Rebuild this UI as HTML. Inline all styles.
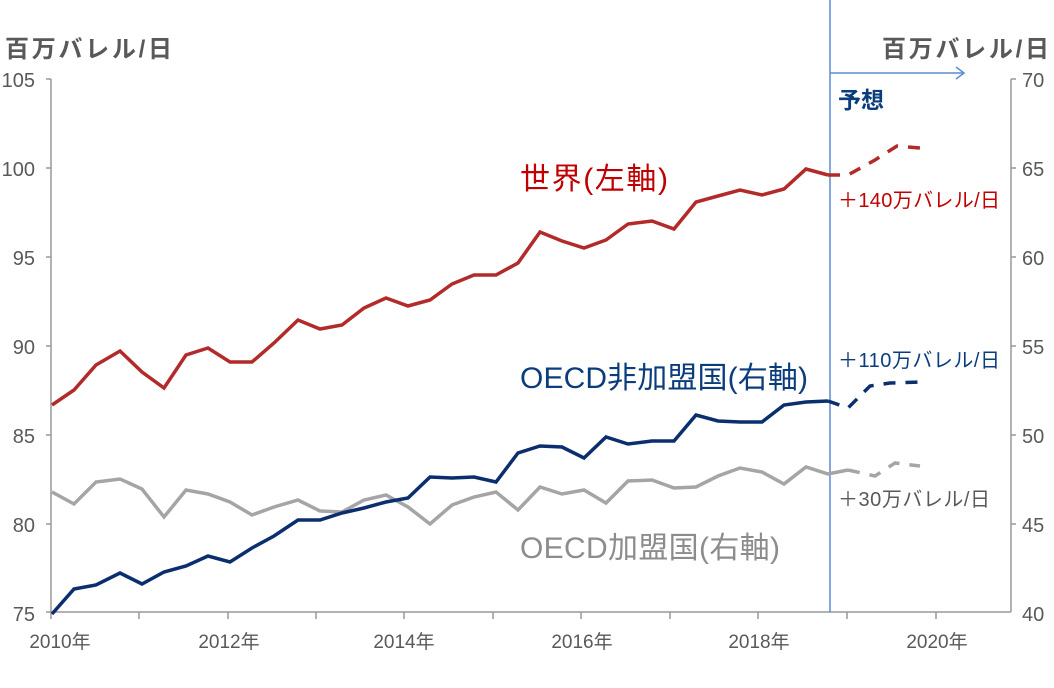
<!DOCTYPE html>
<html><head><meta charset="utf-8"><style>
html,body{margin:0;padding:0;background:#fff;}
svg text{font-family:"Liberation Sans","Noto Sans CJK JP",sans-serif;}
</style></head><body>
<svg width="1054" height="683" viewBox="0 0 1054 683" xmlns="http://www.w3.org/2000/svg">
<rect width="1054" height="683" fill="#fff"/>
<g stroke="#999" stroke-width="1.5" fill="none">
<line x1="51" y1="79" x2="51" y2="612"/>
<line x1="46" y1="612" x2="1011" y2="612"/>
<line x1="1011" y1="79" x2="1011" y2="612"/>
<line x1="46" y1="79" x2="51" y2="79"/><line x1="46" y1="168" x2="51" y2="168"/><line x1="46" y1="257" x2="51" y2="257"/><line x1="46" y1="346" x2="51" y2="346"/><line x1="46" y1="435" x2="51" y2="435"/><line x1="46" y1="524" x2="51" y2="524"/>
<line x1="1011" y1="79" x2="1016" y2="79"/><line x1="1011" y1="168" x2="1016" y2="168"/><line x1="1011" y1="257" x2="1016" y2="257"/><line x1="1011" y1="346" x2="1016" y2="346"/><line x1="1011" y1="435" x2="1016" y2="435"/><line x1="1011" y1="524" x2="1016" y2="524"/>
<line x1="51" y1="612" x2="51" y2="619"/><line x1="139" y1="612" x2="139" y2="619"/><line x1="228" y1="612" x2="228" y2="619"/><line x1="316" y1="612" x2="316" y2="619"/><line x1="404" y1="612" x2="404" y2="619"/><line x1="493" y1="612" x2="493" y2="619"/><line x1="581" y1="612" x2="581" y2="619"/><line x1="670" y1="612" x2="670" y2="619"/><line x1="758" y1="612" x2="758" y2="619"/><line x1="847" y1="612" x2="847" y2="619"/><line x1="936" y1="612" x2="936" y2="619"/>
</g>
<g fill="#595959" font-size="20">
<text x="35" y="87" text-anchor="end">105</text><text x="35" y="176" text-anchor="end">100</text><text x="35" y="265" text-anchor="end">95</text><text x="35" y="354" text-anchor="end">90</text><text x="35" y="443" text-anchor="end">85</text><text x="35" y="532" text-anchor="end">80</text><text x="35" y="621" text-anchor="end">75</text>
<text x="1022" y="87">70</text><text x="1022" y="176">65</text><text x="1022" y="265">60</text><text x="1022" y="354">55</text><text x="1022" y="443">50</text><text x="1022" y="532">45</text><text x="1022" y="621">40</text>
<text x="60" y="648" text-anchor="middle" font-size="19">2010年</text><text x="229" y="648" text-anchor="middle" font-size="19">2012年</text><text x="404" y="648" text-anchor="middle" font-size="19">2014年</text><text x="582" y="648" text-anchor="middle" font-size="19">2016年</text><text x="759" y="648" text-anchor="middle" font-size="19">2018年</text><text x="937" y="648" text-anchor="middle" font-size="19">2020年</text>
</g>
<g fill="#595959" font-size="24" font-weight="bold">
<text x="5" y="57" textLength="167">百万バレル/日</text>
<text x="882" y="57" textLength="167">百万バレル/日</text>
</g>
<line x1="830" y1="0" x2="830" y2="612" stroke="#5b8bd0" stroke-width="1.5"/>
<line x1="830" y1="73" x2="964" y2="73" stroke="#5b8bd0" stroke-width="1.5"/>
<polyline points="956,67 964,73 956,79" fill="none" stroke="#5b8bd0" stroke-width="1.5"/>
<text x="838" y="108" fill="#0b3d7d" font-size="23" font-weight="bold">予想</text>
<polyline fill="none" stroke="#a5a5a5" stroke-width="3.5" points="52,492 74,504 96,482 120,479 142,489 164,517 186,490 208,494 230,502 252,515 274,507 298,500 320,511 342,512 364,500 386,495 408,507 430,524 452,505 474,497 496,492 518,510 540,487 562,494 584,490 606,503 628,481 652,480 674,488 696,487 718,476 740,468 762,472 784,484 806,467 828,474 848,470"/>
<polyline fill="none" stroke="#a5a5a5" stroke-width="3.5" stroke-dasharray="12,10" points="848,470 875,476 895,463 920,466"/>
<polyline fill="none" stroke="#0b2e6e" stroke-width="3.5" points="52,614 74,589 96,585 120,573 142,584 164,572 186,566 208,556 230,562 252,548 274,536 298,520 320,520 342,513 364,508 386,502 408,498 430,477 452,478 474,477 496,482 518,453 540,446 562,447 584,458 606,437 628,444 652,441 674,441 696,415 718,421 740,422 762,422 784,405 806,402 828,401"/>
<polyline fill="none" stroke="#0b2e6e" stroke-width="3.5" stroke-dasharray="12,10" points="828,401 848,408 870,386 890,383 920,382"/>
<polyline fill="none" stroke="#b22a2a" stroke-width="3.5" points="52,405 74,390 96,365 120,351 142,372 164,388 186,355 208,348 230,362 252,362 274,343 298,320 320,329 342,325 364,308 386,298 408,306 430,300 452,284 474,275 496,275 518,263 540,232 562,241 584,248 606,240 628,224 652,221 674,229 696,202 718,196 740,190 762,195 784,189 806,169 828,175"/>
<polyline fill="none" stroke="#b22a2a" stroke-width="3.5" stroke-dasharray="12,10" points="828,175 848,175 875,160 897,146 920,148"/>
<text x="520" y="189" fill="#c00000" font-size="30" textLength="148">世界(左軸)</text>
<text x="520" y="388" fill="#0b3d7d" font-size="30" textLength="288">OECD非加盟国(右軸)</text>
<text x="520" y="558" fill="#8c8c8c" font-size="30" textLength="260">OECD加盟国(右軸)</text>
<text x="838" y="207" fill="#c00000" font-size="20" textLength="162">＋140万バレル/日</text>
<text x="838" y="367" fill="#0b3d7d" font-size="20" textLength="162">＋110万バレル/日</text>
<text x="838" y="506" fill="#595959" font-size="20" textLength="152">＋30万バレル/日</text>
</svg>
</body></html>
